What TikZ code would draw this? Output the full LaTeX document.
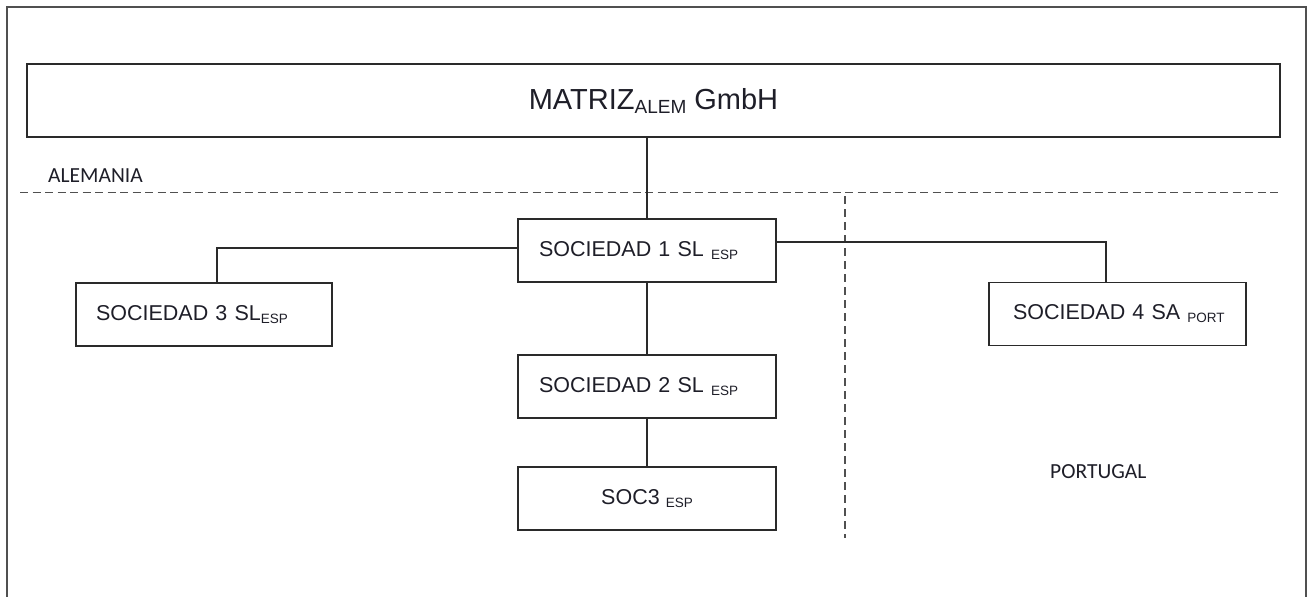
\documentclass[tikz,border=0pt]{standalone}
\usepackage{fontspec}
\setmainfont{Liberation Sans}
\newfontfamily\labfont{Carlito}
\definecolor{txt}{HTML}{1E1E28}
\definecolor{ln}{HTML}{2A2A2A}
\definecolor{fr}{HTML}{505050}
\newcommand{\subs}[1]{\raisebox{-3pt}{\fontsize{13.5}{14}\selectfont #1}}
\begin{document}
\begin{tikzpicture}[x=1pt,y=-1pt,
  box/.style={draw=ln, line width=1.3pt, text=txt, minimum height=63pt,
    font=\fontsize{21.5}{24}\selectfont, align=left},
  cbox/.style={draw=ln, line width=1.3pt, text=txt, minimum height=63pt,
    minimum width=258pt, font=\fontsize{21.5}{24}\selectfont},
  conn/.style={draw=ln, line width=1.2pt},
  region/.style={draw=fr, line width=1.3pt, dash pattern=on 8pt off 4.5pt},
  lab/.style={text=txt, font=\labfont\fontsize{21.5}{24}\selectfont, inner sep=0pt}
]
\useasboundingbox (0,0) rectangle (1307,597);
% outer frame
\draw[fr, line width=1.5pt] (7,597) -- (7,7) -- (1306,7) -- (1306,597);

% top box
\node[draw=ln, line width=1.3pt, text=txt, minimum width=1253pt, minimum height=73pt,
  font=\fontsize{29}{32}\selectfont] (m) at (653.5,100.5)
  {MATRIZ\raisebox{-4pt}{\fontsize{19}{20}\selectfont ALEM} GmbH};

% regions
\coordinate (hl) at (20,192.5);
\coordinate (hr) at (1280,192.5);
\draw[region] (hl) -- (hr);
\coordinate (vt) at (845,196);
\coordinate (vb) at (845,538);
\draw[region, dash pattern=on 8pt off 5pt] (vt) -- (vb);
\node[lab, anchor=base west] (ale) at (48,182) {ALEMANIA};
\node[lab, anchor=base west] (por) at (1050,478) {PORTUGAL};

% boxes
\node[box, inner xsep=21pt, text width=216pt] (s1) at (647,250.5)
  {\mbox{SOCIEDAD 1 SL \subs{ESP}}};
\node[box, inner xsep=21pt, text width=216pt] (s2) at (647,386.5)
  {\mbox{SOCIEDAD 2 SL \subs{ESP}}};
\node[box, inner xsep=20pt, text width=216pt] (s3) at (204,314.5)
  {\mbox{SOCIEDAD 3 SL\subs{ESP}}};
\node[box, inner xsep=24pt, text width=209pt] (s4) at (1117.5,314)
  {\mbox{SOCIEDAD 4 SA \subs{PORT}}};
\node[cbox] (s5) at (647,498.5) {SOC3 \subs{ESP}};

% connectors
\draw[conn] (s1.north) -- (s1.north |- m.south);
\draw[conn] ([yshift=2.5pt]s1.west) -| ([xshift=13pt]s3.north);
\draw[conn] ([yshift=8.5pt]s1.east) -| ([xshift=-11.5pt]s4.north);
\draw[conn] (s1.south) -- (s2.north);
\draw[conn] (s2.south) -- (s5.north);
\end{tikzpicture}
\end{document}
